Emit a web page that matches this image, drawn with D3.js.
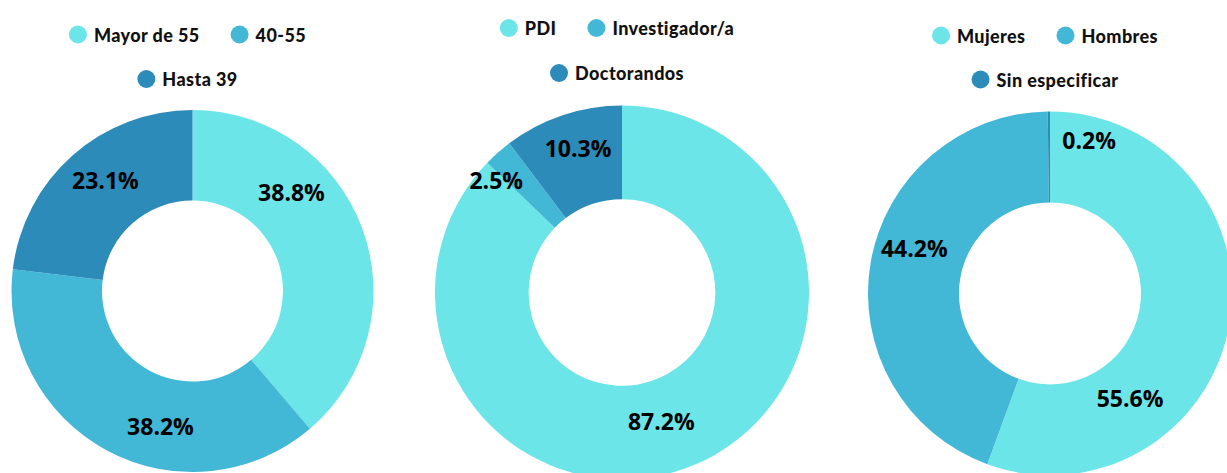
<!DOCTYPE html>
<html><head><meta charset="utf-8">
<script src="https://cdn.jsdelivr.net/npm/d3@7"></script>
<style>
html,body{margin:0;padding:0;background:#fff;}
svg{display:block;}
</style></head>
<body>
<svg id="chart" width="1227" height="473"></svg>
<script>
// ---- data ----
const edadCategories = ["Mayor de 55", "40-55", "Hasta 39"];
const edadValues = [38.8, 38.2, 23.1];
const tipoCategories = ["PDI", "Investigador/a", "Doctorandos"];
const tipoValues = [87.2, 2.5, 10.3];
const sexoCategories = ["Mujeres", "Hombres", "Sin especificar"];
const sexoValues = [55.6, 44.2, 0.2];
const colors = ["#6ce5e8", "#42b8d6", "#2d8bba"];

// ---- layout ----
const charts = [
  {cats: edadCategories, vals: edadValues, cx: 192.5, cy: 291, r: 181, ri: 90.5,
   legendRows: [[0,1],[2]], legendY: [34.5, 79], labelShift: [-24.8, -14.9, 3.4], labelR: [140, 139, 141]},
  {cats: tipoCategories, vals: tipoValues, cx: 622, cy: 292.5, r: 187, ri: 93.3,
   legendRows: [[0,1],[2]], legendY: [28, 73], labelShift: [6.0, -6.5, 1.6], labelR: [134, 169, 151]},
  {cats: sexoCategories, vals: sexoValues, cx: 1050, cy: 293.4, r: 182, ri: 91,
   legendRows: [[0,1],[2]], legendY: [35.5, 79.5], labelShift: [42.6, 8.6, 14.7], labelR: [132, 143, 158]}
];

const svg = d3.select("#chart");
const color = d3.scaleOrdinal().range(colors);
const pie = d3.pie().sort(null).value(d => d);

charts.forEach(c => {
  const g = svg.append("g").attr("transform", `translate(${c.cx},${c.cy})`);
  const arcs = pie(c.vals);
  const arc = d3.arc().innerRadius(c.ri).outerRadius(c.r);
  color.domain(c.cats);
  g.selectAll("path.slice").data(arcs).enter().append("path")
    .attr("class", "slice")
    .attr("d", arc)
    .attr("fill", (d, i) => color(c.cats[i]));

  g.selectAll("text.lbl").data(arcs).enter().append("text")
    .attr("class", "lbl")
    .attr("transform", (d, i) => {
      const a = (d.startAngle + d.endAngle) / 2 + c.labelShift[i] * Math.PI / 180;
      const p = d3.arc().innerRadius(c.labelR[i]).outerRadius(c.labelR[i]).centroid({startAngle: a, endAngle: a});
      return `translate(${p[0]},${p[1]})`;
    })
    .attr("text-anchor", "middle")
    .attr("dominant-baseline", "central")
    .attr("font-family", "'Open Sans', sans-serif")
    .attr("font-weight", 700)
    .attr("font-size", 23)
    .attr("fill", "#000")
    .text((d, i) => d3.format(".1f")(c.vals[i]) + "%");

  // legend
  const lg = svg.append("g");
  c.legendRows.forEach((row, ri) => {
    const rowG = lg.append("g");
    let x = 0;
    row.forEach((idx, k) => {
      const it = rowG.append("g").attr("transform", `translate(${x},0)`);
      it.append("circle").attr("cx", 9).attr("cy", 0).attr("r", 9).attr("fill", color(c.cats[idx]));
      const t = it.append("text").attr("x", 25).attr("y", 0)
        .attr("dominant-baseline", "central")
        .attr("font-family", "Lato, sans-serif").attr("font-weight", 900)
        .attr("font-size", 18).attr("letter-spacing", 0.4).attr("fill", "#111")
        .text(c.cats[idx]);
      const w = t.node().getComputedTextLength();
      x += 25 + w + (k < row.length - 1 ? 31 : 0);
    });
    rowG.attr("transform", `translate(${c.cx - 5 - x / 2},${c.legendY[ri]})`);
  });
});
</script>
</body></html>
